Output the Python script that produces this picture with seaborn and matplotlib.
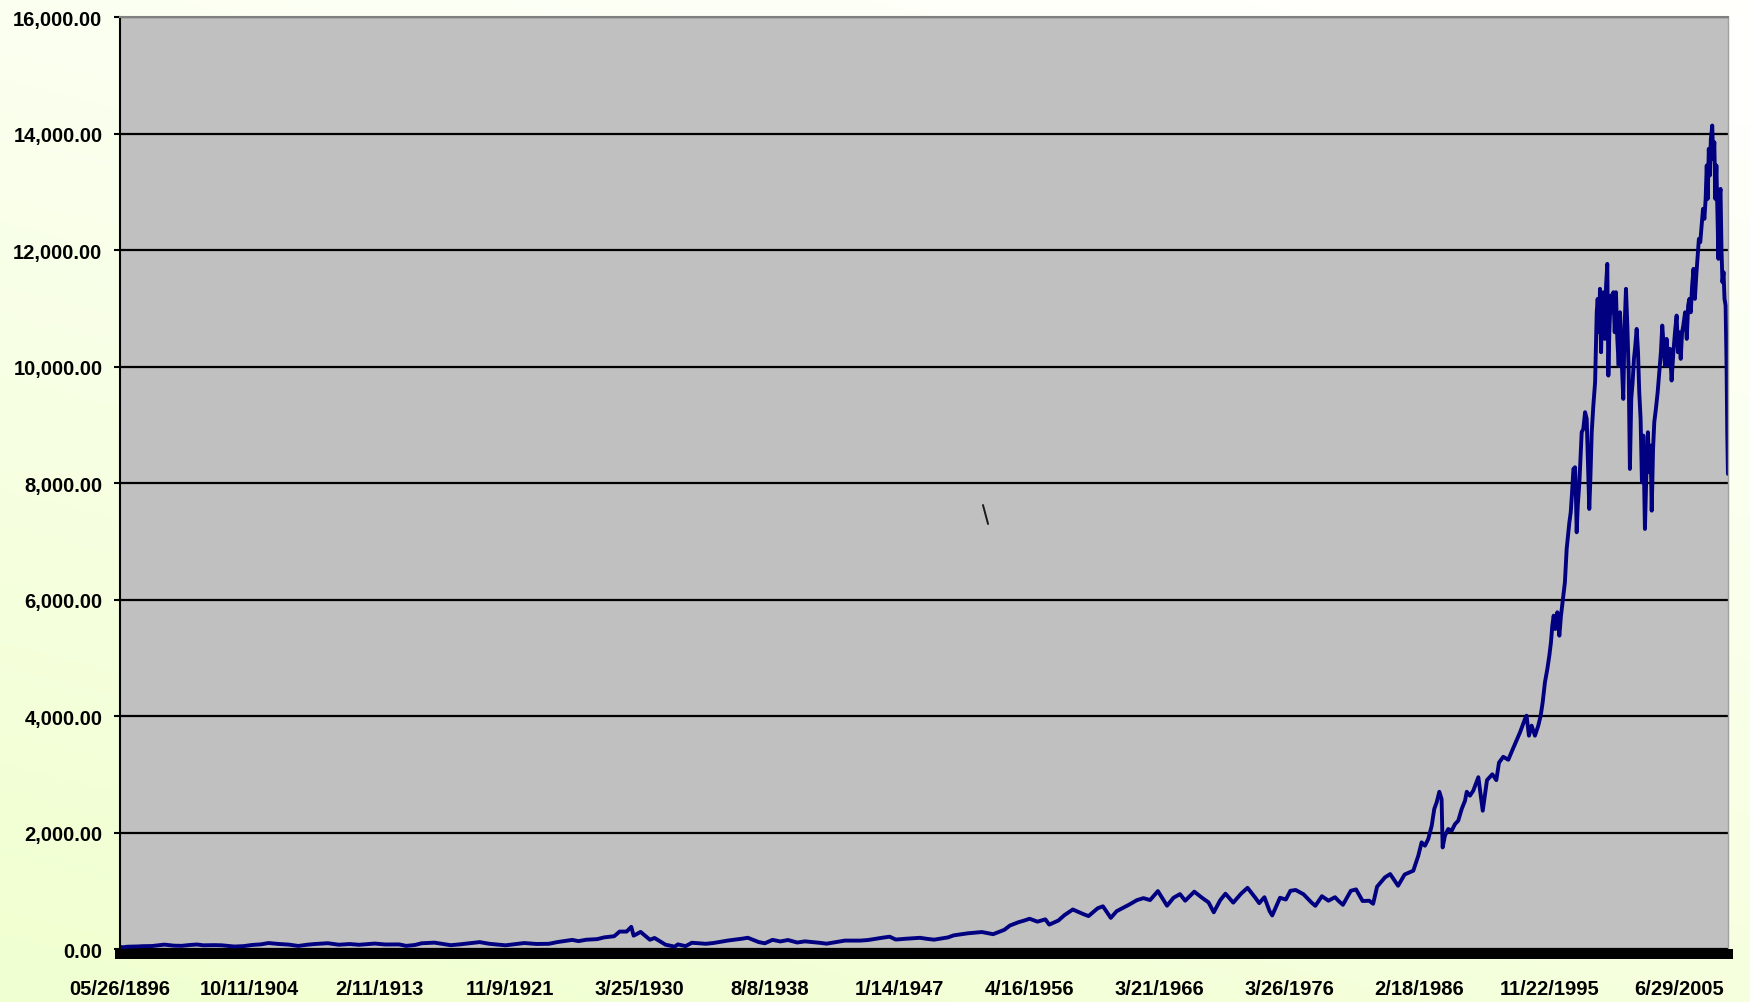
import numpy as np
import pandas as pd
import matplotlib
matplotlib.use('Agg')
import matplotlib.pyplot as plt
import seaborn as sns
from matplotlib.lines import Line2D
from matplotlib.ticker import FuncFormatter

# --- Data: DJIA closes (chart-year, value) ---
years_a = [1896.40, 1896.60, 1896.90, 1897.50, 1897.90, 1898.50, 1899.30, 1899.90, 1900.40, 1900.95,
           1901.40, 1901.80, 1902.50, 1903.00, 1903.80, 1904.40, 1904.95, 1905.50, 1906.00, 1906.60,
           1907.30, 1907.90, 1908.50, 1908.95, 1909.80, 1910.50, 1911.20, 1911.80, 1912.80, 1913.50,
           1914.40, 1914.60, 1914.90, 1915.50, 1915.95, 1916.80, 1917.90, 1918.50, 1919.50, 1919.85,
           1920.50, 1921.60, 1922.40, 1922.80, 1923.60, 1924.40, 1924.95, 1925.90, 1926.30, 1926.80,
           1927.50, 1927.95, 1928.60, 1928.95, 1929.40, 1929.70, 1929.85, 1930.00, 1930.30, 1930.90,
           1931.20, 1931.90, 1932.50, 1932.70, 1933.20, 1933.60, 1934.50, 1935.00, 1935.90, 1936.90,
           1937.20, 1937.90, 1938.30, 1938.80, 1939.30, 1939.80, 1940.40, 1940.90, 1941.90, 1942.30,
           1942.90, 1943.50, 1944.50, 1945.00, 1945.90]
close_a = [40, 29, 40, 44, 49, 52, 76, 58, 55, 70,
           78, 64, 67, 64, 43, 50, 70, 80, 103, 88,
           76, 53, 75, 86, 100, 74, 86, 73, 94, 78,
           80, 71, 54, 70, 99, 110, 66, 80, 110, 119,
           90, 64, 90, 103, 87, 90, 120, 157, 136, 160,
           170, 200, 220, 300, 300, 381, 230, 250, 294, 160,
           190, 75, 41, 80, 50, 108, 90, 104, 145, 180,
           194, 120, 99, 158, 130, 155, 112, 132, 106, 92,
           119, 145, 145, 155, 193]

years_b = [1946.40, 1946.80, 1947.50, 1948.50, 1949.00, 1949.50, 1950.50, 1950.90, 1951.90, 1952.90,
           1953.70, 1954.50, 1954.90, 1955.50, 1955.90, 1956.30, 1956.90, 1957.50, 1957.80, 1958.50,
           1958.95, 1959.60, 1960.40, 1960.80, 1961.50, 1961.90, 1962.50, 1962.95, 1963.90, 1964.50,
           1965.00, 1965.50, 1966.10, 1966.80, 1967.30, 1967.80, 1968.20, 1968.90, 1969.50, 1970.00,
           1970.40, 1970.90, 1971.30, 1971.90, 1972.50, 1973.00, 1973.60, 1973.90, 1974.30, 1974.70,
           1974.90, 1975.50, 1975.95, 1976.30, 1976.70, 1977.30, 1977.90, 1978.20, 1978.70, 1979.20,
           1979.70, 1979.95, 1980.30, 1980.90, 1981.30, 1981.80, 1982.30, 1982.60, 1982.90, 1983.50,
           1983.90, 1984.50, 1985.00]
close_b = [212, 163, 177, 193, 175, 161, 200, 235, 270, 292,
           255, 330, 404, 460, 488, 520, 470, 510, 419, 490,
           580, 679, 600, 566, 700, 734, 535, 650, 762, 840,
           874, 840, 995, 744, 880, 943, 830, 985, 880, 800,
           631, 840, 950, 797, 950, 1051, 880, 788, 890, 650,
           577, 880, 850, 1000, 1014, 940, 800, 742, 907, 830,
           890, 830, 759, 1000, 1024, 824, 830, 777, 1070, 1230,
           1287, 1086, 1280]

years_c = [1985.66, 1986.04, 1986.29, 1986.54, 1986.79, 1987.05, 1987.24, 1987.42, 1987.62, 1987.79,
           1987.87, 1988.04, 1988.29, 1988.55, 1988.80, 1989.04, 1989.30, 1989.55, 1989.68, 1989.92,
           1990.17, 1990.55, 1990.88, 1991.20, 1991.60, 1991.90, 1992.10, 1992.42, 1992.80, 1993.17,
           1993.68, 1994.05, 1994.17, 1994.35, 1994.55, 1994.80, 1995.05, 1995.23, 1995.38, 1995.55,
           1995.73, 1995.88, 1996.00, 1996.10, 1996.20, 1996.32, 1996.47, 1996.62, 1996.74, 1996.91,
           1997.03]
close_c = [1345, 1602, 1831, 1774, 1889, 2118, 2404, 2518, 2700, 2575,
           1745, 1946, 2060, 2032, 2146, 2203, 2404, 2547, 2700, 2633,
           2719, 2950, 2375, 2900, 3000, 2900, 3200, 3300, 3250, 3450,
           3720, 3949, 4006, 3663, 3835, 3663, 3835, 4006, 4235, 4579,
           4808, 5037, 5266, 5552, 5723, 5494, 5781, 5380, 5723, 6067,
           6296]

years_d = [1997.16, 1997.36, 1997.46, 1997.56, 1997.66, 1997.78, 1997.85, 1997.90, 1997.98, 1998.10,
           1998.27, 1998.39, 1998.52, 1998.64, 1998.74, 1998.83, 1998.91, 1999.01, 1999.13, 1999.26,
           1999.38, 1999.45, 1999.55, 1999.62, 1999.70, 1999.77, 1999.87, 1999.97, 2000.07, 2000.16,
           2000.24, 2000.31, 2000.41, 2000.51, 2000.61, 2000.71, 2000.80, 2000.90, 2001.00, 2001.10,
           2001.20, 2001.34, 2001.44, 2001.54, 2001.64, 2001.74, 2001.83, 2001.93, 2002.03, 2002.13,
           2002.23, 2002.33, 2002.43, 2002.52, 2002.62, 2002.72, 2002.82, 2002.94, 2003.06, 2003.16,
           2003.26, 2003.36, 2003.44, 2003.54, 2003.63, 2003.75, 2003.88, 2004.00, 2004.12, 2004.22,
           2004.32, 2004.42, 2004.54, 2004.67, 2004.79, 2004.91, 2005.04, 2005.16, 2005.28, 2005.38,
           2005.48, 2005.58, 2005.68, 2005.77, 2005.90, 2006.02, 2006.12, 2006.21, 2006.31, 2006.41,
           2006.51, 2006.61, 2006.71, 2006.80, 2006.90, 2007.00, 2007.10, 2007.20, 2007.30, 2007.39,
           2007.47, 2007.54, 2007.62, 2007.69, 2007.77, 2007.87, 2007.94, 2008.02, 2008.09, 2008.17,
           2008.24, 2008.32, 2008.39, 2008.47, 2008.54, 2008.61, 2008.69, 2008.76, 2008.84, 2008.91,
           2008.96, 2009.01]
close_d = [6868, 7326, 7498, 7842, 8242, 8271, 7727, 7155, 7613, 8013,
           8872, 8929, 9216, 9101, 8300, 7555, 8070, 8872, 9330, 9731,
           10932, 11162, 10589, 11334, 10246, 10990, 11276, 10475, 11391, 11763,
           9845, 10589, 11219, 10932, 11276, 10589, 11276, 10475, 10017, 10932,
           10246, 9445, 10704, 11334, 10704, 9903, 8242, 9445, 9731, 10132,
           10360, 10646, 10246, 9559, 9101, 8013, 8815, 7212, 8300, 8872,
           8185, 8643, 7526, 8586, 9044, 9273, 9559, 9903, 10246, 10704,
           10360, 10017, 10475, 10017, 10303, 9760, 10246, 10589, 10875, 10246,
           10589, 10132, 10589, 10704, 10932, 10475, 11048, 11162, 10932, 11391,
           11677, 11162, 11563, 11849, 12192, 12135, 12421, 12707, 12536, 12879,
           13452, 12879, 13738, 13280, 13910, 14138, 13566, 13852, 12879, 13452,
           12707, 11849, 12879, 13050, 12020, 11448, 11620, 11162, 11048, 10017,
           8872, 8157]

# Category labels shown every 2450 trading rows in the original sheet
tick_labels = ['05/26/1896', '10/11/1904', '2/11/1913', '11/9/1921', '3/25/1930',
               '8/8/1938', '1/14/1947', '4/16/1956', '3/21/1966', '3/26/1976',
               '2/18/1986', '11/22/1995', '6/29/2005']
tick_years = [1896.40, 1904.78, 1913.11, 1921.86, 1930.23, 1938.60, 1947.04,
              1956.29, 1966.22, 1976.23, 1986.13, 1995.89, 2005.49]
y_ticks = list(range(0, 16001, 2000))

df = pd.DataFrame({
    'year': years_a + years_b + years_c + years_d,
    'close': close_a + close_b + close_c + close_d,
})

# --- Trading-day axis: labels are equally spaced, so map years piecewise ---
ay = np.array(tick_years + [years_d[-1]])
ap = np.array(list(range(len(tick_years))) + [12.373])


def fwd(v):
    v = np.asarray(v, dtype=float)
    out = np.interp(v, ay, ap)
    out = np.where(v < ay[0], ap[0] + (v - ay[0]) * (ap[1] - ap[0]) / (ay[1] - ay[0]), out)
    out = np.where(v > ay[-1], ap[-1] + (v - ay[-1]) * (ap[-1] - ap[-2]) / (ay[-1] - ay[-2]), out)
    return out


def inv(p):
    p = np.asarray(p, dtype=float)
    out = np.interp(p, ap, ay)
    out = np.where(p < ap[0], ay[0] + (p - ap[0]) * (ay[1] - ay[0]) / (ap[1] - ap[0]), out)
    out = np.where(p > ap[-1], ay[-1] + (p - ap[-1]) * (ay[-1] - ay[-2]) / (ap[-1] - ap[-2]), out)
    return out


# --- Style ---
sns.set_style("ticks")
plt.rcParams['font.family'] = ['Liberation Sans', 'DejaVu Sans']
plt.rcParams['font.weight'] = 'bold'

fig = plt.figure(figsize=(17.5, 10.03), dpi=100)

# pale yellow-green gradient behind everything
bg = fig.add_axes([0, 0, 1, 1], zorder=-10)
bg.axis('off')
xn, yn = np.meshgrid(np.linspace(0, 1, 256), np.linspace(0, 1, 256))
t = np.clip(0.8 * (1 - yn) + 0.35 * (1 - xn) - 0.1, 0, 1)[..., None]
c_top = np.array([1.0, 1.0, 0.985])
c_bot = np.array([0.945, 1.0, 0.82])
bg.imshow(c_top * (1 - t) + c_bot * t, extent=[0, 1, 0, 1], origin='lower', aspect='auto')

ax = fig.add_axes([0.0683, 0.0528, 0.9191, 0.9292], zorder=0)
ax.set_facecolor('#C0C0C0')
ax.set_xscale('function', functions=(fwd, inv))

sns.lineplot(data=df, x='year', y='close', ax=ax, color='#000080', linewidth=2.8,
             estimator=None, sort=False)

ax.set_xlim(df['year'].iloc[0], df['year'].iloc[-1])
ax.set_ylim(0, 16000)
ax.set_yticks(y_ticks)
ax.yaxis.set_major_formatter(FuncFormatter(lambda v, p: f"{v:,.2f}"))
ax.set_xticks(tick_years)
ax.set_xticklabels(tick_labels)
ax.set_xlabel('')
ax.set_ylabel('')

ax.set_axisbelow(True)
ax.yaxis.grid(True, color='black', linewidth=1.6)
ax.xaxis.grid(False)

ax.tick_params(axis='y', length=4.3, width=1.5, pad=8, labelsize=14.5, colors='black')
ax.tick_params(axis='x', length=0, pad=18, labelsize=14.5, colors='black')
for lab in ax.get_xticklabels() + ax.get_yticklabels():
    lab.set_fontweight('bold')

ax.spines['left'].set_color('black')
ax.spines['left'].set_linewidth(1.5)
ax.spines['top'].set_color('#808080')
ax.spines['top'].set_linewidth(1.5)
ax.spines['right'].set_color('#A0A0A0')
ax.spines['right'].set_linewidth(1.0)
ax.spines['bottom'].set_color('black')
ax.spines['bottom'].set_linewidth(7.2)
ax.spines['bottom'].set_position(('outward', 3.6))

# small stray stroke present in the original sheet
fig.add_artist(Line2D([0.5617, 0.5646], [0.4955, 0.4766], transform=fig.transFigure,
                      color='#1a1a1a', linewidth=1.4, zorder=5))

fig.savefig('out.png', dpi=100)
